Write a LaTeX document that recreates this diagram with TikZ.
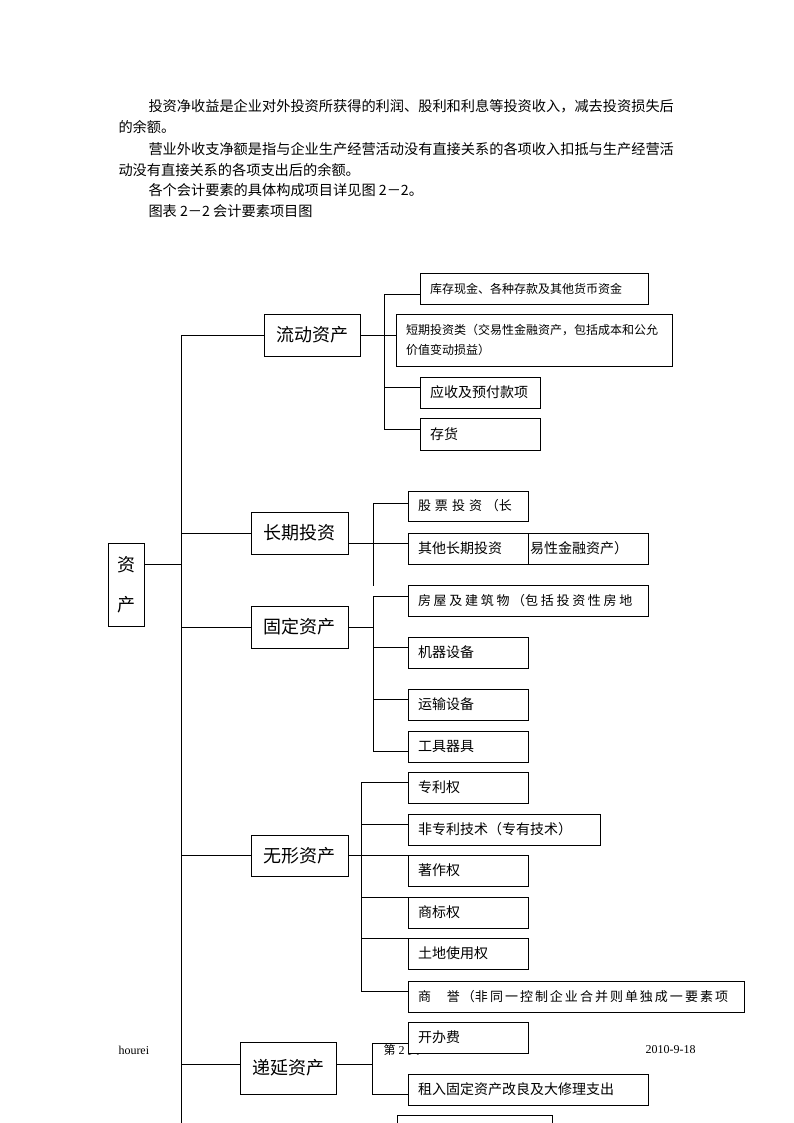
\documentclass[tikz,border=0pt]{standalone}
\usepackage{fontspec}
\setmainfont{Liberation Serif}
\newfontfamily\cjk{Noto Sans CJK SC}
\newcommand\gpA{\hspace{4pt}}
\newcommand\gpB{\hspace{2.7pt}}
\newcommand\gpC{\hspace{2pt}}
\begin{document}
\begin{tikzpicture}[x=1pt,y=-1pt,line width=1pt,
  cat/.style={draw,fill=white,anchor=north west,inner sep=0pt,outer sep=0pt,align=center,
    font=\cjk\fontsize{18pt}{18pt}\selectfont},
  itm/.style={draw,fill=white,anchor=north west,inner xsep=10pt,inner ysep=0pt,outer sep=0pt,align=left,
    font=\cjk\fontsize{14pt}{16pt}\selectfont},
  small/.style={font=\cjk\fontsize{12pt}{20pt}\selectfont},
  spaced/.style={font=\cjk\fontsize{13pt}{16pt}\selectfont},
  para/.style={anchor=west,inner sep=0pt,font=\cjk\fontsize{14.2pt}{16pt}\selectfont},
  foot/.style={anchor=west,inner sep=0pt,font=\fontsize{12pt}{14pt}\selectfont}]
\useasboundingbox (0,0) rectangle (794,1123);
\fill[white] (0,0) rectangle (794,1123);

% body text
\node[para] (p1) at (148,106) {投资净收益是企业对外投资所获得的利润、股利和利息等投资收入，减去投资损失后};
\node[para] (p2) at (118,127) {的余额。};
\node[para] (p3) at (148,149) {营业外收支净额是指与企业生产经营活动没有直接关系的各项收入扣抵与生产经营活};
\node[para] (p4) at (118,170) {动没有直接关系的各项支出后的余额。};
\node[para] (p5) at (148,190) {各个会计要素的具体构成项目详见图 2－2。};
\node[para] (p6) at (148,211) {图表 2－2 会计要素项目图};

% footer (partly hidden by boxes)
\node[foot] (f1) at (118,1050) {hourei};
\node[foot] (f2) at (383,1050) {{\cjk 第} 2 {\cjk 页}};
\node[foot] (f3) at (645,1050) {2010-9-18};

% trunk coordinates
\coordinate (m0) at (181,335);
\coordinate (m1) at (181,1135);
\coordinate (zcy) at (144,564);
\coordinate (a0) at (384,294);
\coordinate (a2) at (384,387);
\coordinate (a3) at (384,429);
\coordinate (c0) at (373,503);
\coordinate (c1) at (373,543);
\coordinate (c2) at (373,586);
\coordinate (g0) at (373,596);
\coordinate (g2) at (373,647);
\coordinate (g3) at (373,699);
\coordinate (g4) at (373,751);
\coordinate (w0) at (361,782);
\coordinate (w1) at (361,824);
\coordinate (w3) at (361,897);
\coordinate (w4) at (361,938);
\coordinate (w5) at (361,991);
\coordinate (d0) at (372,1043);
\coordinate (d1) at (372,1064);
\coordinate (d2) at (372,1094);

% category boxes
\node[cat,minimum width=36pt,minimum height=83pt] (zc) at (108,543) {资\\[22pt]产};
\node[cat,minimum width=96pt,minimum height=42pt] (ld) at (264,314) {流动资产};
\node[cat,minimum width=97pt,minimum height=42pt] (cq) at (251,512) {长期投资};
\node[cat,minimum width=97pt,minimum height=42pt] (gd) at (251,606) {固定资产};
\node[cat,minimum width=97pt,minimum height=41pt] (wx) at (251,835) {无形资产};
\node[cat,minimum width=96pt,minimum height=52pt] (dy) at (240,1042) {递延资产};

% item boxes
\node[itm,small,text width=208pt,minimum height=31pt] (k1) at (420,273) {库存现金、各种存款及其他货币资金};
\node[itm,small,text width=256pt,minimum height=52pt] (k2) at (396,314) {短期投资类（交易性金融资产，包括成本和公允\\价值变动损益）};
\node[itm,text width=100pt,minimum height=31pt] (k3) at (420,377) {应收及预付款项};
\node[itm,text width=100pt,minimum height=32pt] (k4) at (420,418) {存货};

\node[itm,spaced,text width=100pt,minimum height=30pt] (gp) at (408,491) {股\gpA 票\gpA 投\gpA 资\gpA （长};
\node[itm,text width=100pt,minimum height=31pt] (qt) at (408,533) {其他长期投资};
\node[itm,inner xsep=2pt,text width=116pt,minimum height=31pt] (qt2) at (528,533) {易性金融资产）};

\node[itm,spaced,text width=220pt,minimum height=31pt] (fw) at (408,585) {房\gpB 屋\gpB 及\gpB 建\gpB 筑\gpB 物\gpB （包\gpB 括\gpB 投\gpB 资\gpB 性\gpB 房\gpB 地};
\node[itm,text width=100pt,minimum height=31pt] (jq) at (408,637) {机器设备};
\node[itm,text width=100pt,minimum height=31pt] (ys) at (408,689) {运输设备};
\node[itm,text width=100pt,minimum height=31pt] (gj) at (408,731) {工具器具};

\node[itm,text width=100pt,minimum height=31pt] (zl) at (408,772) {专利权};
\node[itm,text width=172pt,minimum height=31pt] (fz) at (408,814) {非专利技术（专有技术）};
\node[itm,text width=100pt,minimum height=31pt] (zz) at (408,855) {著作权};
\node[itm,text width=100pt,minimum height=31pt] (sb) at (408,897) {商标权};
\node[itm,text width=100pt,minimum height=31pt] (td) at (408,938) {土地使用权};
\node[itm,spaced,text width=316pt,minimum height=31pt] (sy) at (408,981) {商\hspace{16pt}誉\gpC （非\gpC 同\gpC 一\gpC 控\gpC 制\gpC 企\gpC 业\gpC 合\gpC 并\gpC 则\gpC 单\gpC 独\gpC 成\gpC 一\gpC 要\gpC 素\gpC 项};

\node[itm,text width=100pt,minimum height=31pt] (kb) at (408,1022) {开办费};
\node[itm,text width=220pt,minimum height=31pt] (zr) at (408,1074) {租入固定资产改良及大修理支出};
\node[itm,text width=135pt,minimum height=30pt] (nx) at (397,1115) {};

% connectors: main trunk
\draw (m0) -- (m1);
\draw (zcy -| zc.east) -- (zcy -| m0);
\draw (ld.west -| m0) -- (ld.west);
\draw (cq.west -| m0) -- (cq.west);
\draw (gd.west -| m0) -- (gd.west);
\draw (wx.west -| m0) -- (wx.west);
\draw (d1 -| m0) -- (d1 -| dy.west);

% 流动资产
\draw (a0) -- (a3);
\draw (a0) -- (a0 -| k1.west);
\draw (ld.east) -- (ld.east -| k2.west);
\draw (a2) -- (a2 -| k3.west);
\draw (a3) -- (a3 -| k4.west);

% 长期投资
\draw (c0) -- (c2);
\draw (c0) -- (c0 -| gp.west);
\draw (c1 -| cq.east) -- (c1 -| qt.west);

% 固定资产
\draw (g0) -- (g4);
\draw (g0) -- (g0 -| fw.west);
\draw (gd.east) -- (gd.east -| g0);
\draw (g2) -- (g2 -| jq.west);
\draw (g3) -- (g3 -| ys.west);
\draw (g4) -- (g4 -| gj.west);

% 无形资产
\draw (w0) -- (w5);
\draw (w0) -- (w0 -| zl.west);
\draw (w1) -- (w1 -| fz.west);
\draw (wx.east) -- (wx.east -| zz.west);
\draw (w3) -- (w3 -| sb.west);
\draw (w4) -- (w4 -| td.west);
\draw (w5) -- (w5 -| sy.west);

% 递延资产
\draw (d0) -- (d2);
\draw (d0) -- (d0 -| kb.west);
\draw (d1 -| dy.east) -- (d1);
\draw (d2) -- (d2 -| zr.west);
\end{tikzpicture}
\end{document}
